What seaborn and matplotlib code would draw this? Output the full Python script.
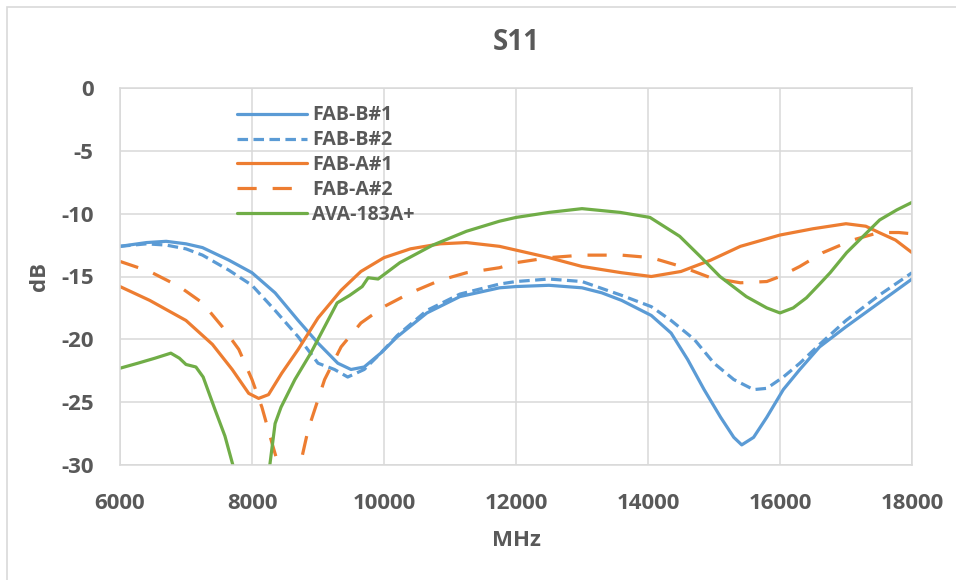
import pandas as pd
import seaborn as sns
import matplotlib.pyplot as plt
from matplotlib.patches import Rectangle

# S11 curves (MHz, dB)
fab_b1_f = [6000, 6400, 6700, 7000, 7250, 7650, 8000, 8350, 8700, 9000, 9300, 9500, 9700,
            9950, 10200, 10650, 11150, 11750, 12000, 12500, 13000, 13300, 13600, 14050,
            14350, 14600, 14850, 15100, 15300, 15420, 15600, 15800, 16050, 16300, 16600,
            17000, 17500, 18000]
fab_b1_db = [-12.6, -12.3, -12.2, -12.4, -12.7, -13.7, -14.7, -16.3, -18.5, -20.3, -21.9, -22.4, -22.2,
             -21.1, -19.8, -17.9, -16.6, -15.9, -15.8, -15.7, -15.9, -16.3, -16.9, -18.1,
             -19.5, -21.6, -24.0, -26.2, -27.8, -28.4, -27.8, -26.2, -24.0, -22.4, -20.6,
             -19.0, -17.1, -15.2]

fab_b2_f = [6000, 6400, 6700, 7000, 7250, 7650, 8000, 8350, 8700, 9000, 9250, 9450, 9700,
            9950, 10200, 10650, 11150, 11750, 12000, 12500, 13000, 13600, 14050, 14350,
            14700, 15000, 15300, 15600, 15800, 16050, 16300, 16600, 17000, 17500, 18000]
fab_b2_db = [-12.6, -12.4, -12.5, -12.8, -13.3, -14.5, -15.7, -17.7, -19.8, -21.9, -22.4, -23.0, -22.4,
             -21.1, -19.7, -17.7, -16.4, -15.6, -15.4, -15.2, -15.4, -16.5, -17.4, -18.5,
             -20.0, -21.9, -23.2, -24.0, -23.9, -23.0, -21.9, -20.4, -18.5, -16.5, -14.7]

fab_a1_f = [6000, 6450, 7000, 7400, 7700, 7950, 8100, 8250, 8450, 8700, 9000, 9350, 9650,
            10000, 10400, 10850, 11250, 11750, 12000, 12500, 13000, 13600, 14050, 14500,
            14950, 15400, 16000, 16500, 17000, 17300, 17500, 17750, 18000]
fab_a1_db = [-15.8, -16.9, -18.5, -20.4, -22.4, -24.3, -24.7, -24.4, -22.7, -20.8, -18.3, -16.1, -14.6,
             -13.5, -12.8, -12.4, -12.3, -12.6, -12.9, -13.5, -14.2, -14.7, -15.0, -14.6,
             -13.7, -12.6, -11.7, -11.2, -10.8, -11.0, -11.5, -12.1, -13.1]

fab_a2_f = [6000, 6450, 6900, 7250, 7550, 7800, 8000, 8150, 8300, 8400, 8550, 8730, 8850,
            9000, 9100, 9350, 9650, 10000, 10400, 10850, 11250, 11750, 12000, 12500, 13000,
            13600, 14050, 14500, 14950, 15400, 15800, 16000, 16300, 16650, 17100, 17500,
            17800, 18000]
fab_a2_db = [-13.8, -14.6, -15.8, -17.1, -19.0, -20.8, -23.2, -25.4, -28.2, -30.0, -32.5, -30.0, -27.2,
             -24.8, -23.2, -20.6, -18.7, -17.4, -16.3, -15.3, -14.7, -14.3, -13.9, -13.5, -13.3,
             -13.3, -13.5, -14.2, -15.1, -15.5, -15.4, -15.0, -14.2, -13.1, -12.1, -11.5,
             -11.5, -11.6]

ava_f = [6000, 6270, 6530, 6770, 6900, 7000, 7150, 7260, 7440, 7590, 7710, 8000, 8270,
         8350, 8440, 8650, 8890, 9000, 9130, 9290, 9480, 9670, 9760, 9910, 10240, 10740,
         11250, 11750, 12000, 12500, 13000, 13580, 14030, 14480, 14790, 15090, 15490,
         15800, 16000, 16200, 16400, 16600, 16760, 17010, 17260, 17510, 17770, 18000]
ava_db = [-22.3, -21.9, -21.5, -21.1, -21.5, -22.0, -22.2, -23.0, -25.6, -27.7, -30.0, -34.0, -30.0,
          -26.7, -25.4, -23.2, -21.1, -20.0, -18.7, -17.1, -16.5, -15.8, -15.1, -15.2, -13.9, -12.5,
          -11.4, -10.6, -10.3, -9.9, -9.6, -9.9, -10.3, -11.8, -13.4, -15.0, -16.6,
          -17.5, -17.9, -17.5, -16.7, -15.6, -14.7, -13.1, -11.8, -10.5, -9.7, -9.1]

series = [
    ("FAB-B#1", fab_b1_f, fab_b1_db, "#5B9BD5", "-"),
    ("FAB-B#2", fab_b2_f, fab_b2_db, "#5B9BD5", (0, (3.3, 1.7))),
    ("FAB-A#1", fab_a1_f, fab_a1_db, "#ED7D31", "-"),
    ("FAB-A#2", fab_a2_f, fab_a2_db, "#ED7D31", (0, (6, 5))),
    ("AVA-183A+", ava_f, ava_db, "#70AD47", "-"),
]

sns.set_style("white")
plt.rcParams["font.family"] = ["Open Sans", "DejaVu Sans"]
plt.rcParams["axes.unicode_minus"] = False
txt = "#595959"
grid = "#d9d9d9"

fig = plt.figure(figsize=(9.56, 5.8), dpi=100)
ax = fig.add_axes([120 / 956, 1 - 465 / 580, 792 / 956, 377 / 580])

for name, f, db, col, ls in series:
    df = pd.DataFrame({"MHz": f, "dB": db})
    sns.lineplot(data=df, x="MHz", y="dB", ax=ax, color=col, linestyle=ls,
                 linewidth=2.3, label=name, sort=False)

ax.set_xlim(6000, 18000)
ax.set_ylim(-30, 0)
ax.set_xticks(range(6000, 18001, 2000))
ax.set_yticks(range(-30, 1, 5))
ax.grid(True, color=grid, linewidth=1.1)
for s in ax.spines.values():
    s.set_color(grid)
    s.set_linewidth(1.1)
ax.tick_params(length=0, labelsize=16, colors=txt)
ax.tick_params(axis="x", pad=20)
ax.tick_params(axis="y", pad=19)
for lab in ax.get_xticklabels() + ax.get_yticklabels():
    lab.set_fontweight("bold")

ax.set_xlabel("MHz", fontsize=16, fontweight="bold", color=txt, labelpad=12)
ax.set_ylabel("dB", fontsize=16, fontweight="bold", color=txt, labelpad=8)
ax.set_title("S11", fontsize=20, fontweight="bold", color=txt, pad=27)

leg = ax.legend(loc="upper left", bbox_to_anchor=(0.125, 1.0), frameon=False,
                handlelength=3.6, handletextpad=0.3, labelspacing=0.25,
                prop={"size": 14, "weight": "bold"})
for t in leg.get_texts():
    t.set_color(txt)

# light chart border like the spreadsheet frame
fig.patches.append(Rectangle((7 / 956, -0.1), 1.2, 1 - 7 / 580 + 0.1,
                             transform=fig.transFigure, fill=False,
                             edgecolor=grid, linewidth=1.2))

fig.savefig("out.png", dpi=100)
